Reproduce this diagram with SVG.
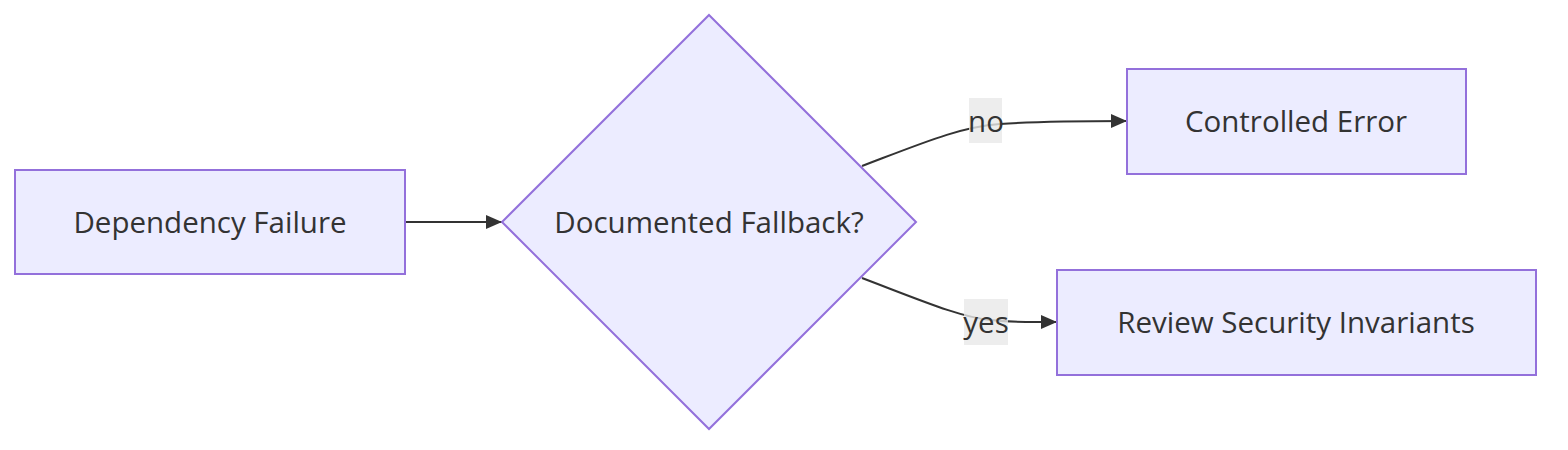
<svg xmlns="http://www.w3.org/2000/svg" width="1568" height="450" viewBox="0 0 1568 450">
<style>
.node{fill:#ECECFF;stroke:#9370DB;stroke-width:2px}
.lbl{font-family:"Open Sans","DejaVu Sans",sans-serif;font-size:29.5px;fill:#333333;text-anchor:middle;dominant-baseline:central}
.edge{fill:none;stroke:#333333;stroke-width:2px}
.ebg{fill:#E8E8E8;fill-opacity:0.8}
</style>
<defs>
<marker id="arr" viewBox="0 0 16 14" refX="16" refY="7" markerWidth="16" markerHeight="14" markerUnits="userSpaceOnUse" orient="auto">
<path d="M0,0 L16,7 L0,14 z" fill="#333333"/>
</marker>
</defs>
<rect width="1568" height="450" fill="#ffffff"/>
<g id="edges">
<path class="edge" d="M405,222 L502,222" marker-end="url(#arr)"/>
<path class="edge" d="M862,166 C925,142 960,127 1000,124 S1080,121 1127,121" marker-end="url(#arr)"/>
<path class="edge" d="M862,278 C925,302 960,317 990,320 S1030,322 1057,322" marker-end="url(#arr)"/>
<rect class="ebg" x="969" y="98" width="33" height="45"/>
<text class="lbl" x="986" y="120">no</text>
<rect class="ebg" x="964" y="299" width="44" height="46"/>
<text class="lbl" x="986" y="321">yes</text>
</g>
<g id="nodeA">
<rect class="node" x="15" y="170" width="390" height="104"/>
<text class="lbl" x="210" y="221">Dependency Failure</text>
</g>
<g id="nodeB">
<polygon class="node" points="709,15 916,222 709,429 502,222"/>
<text class="lbl" x="709" y="221">Documented Fallback?</text>
</g>
<g id="nodeC">
<rect class="node" x="1127" y="69" width="339" height="105"/>
<text class="lbl" x="1296" y="120">Controlled Error</text>
</g>
<g id="nodeD">
<rect class="node" x="1057" y="270" width="479" height="105"/>
<text class="lbl" x="1296" y="321">Review Security Invariants</text>
</g>
</svg>
